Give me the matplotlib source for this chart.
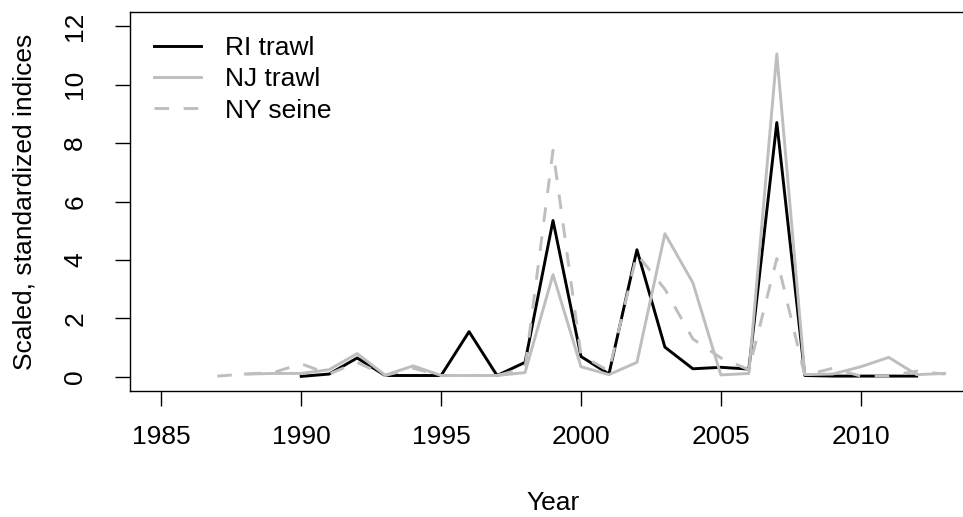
import numpy as np
import matplotlib
matplotlib.use('Agg')
import matplotlib.pyplot as plt

plt.rcParams['font.family'] = ['Liberation Sans', 'DejaVu Sans']

nan = np.nan
years = list(range(1987, 2014))

# RI trawl, starts 1990
ri_trawl = [nan, nan, nan, 0.02, 0.10, 0.65, 0.05, 0.05, 0.05, 1.55,
            0.05, 0.50, 5.35, 0.70, 0.10, 4.35, 1.02, 0.28, 0.33, 0.27,
            8.70, 0.05, 0.03, 0.03, 0.03, 0.03, nan]
# NJ trawl, starts 1988
nj_trawl = [nan, 0.10, 0.12, 0.12, 0.25, 0.80, 0.06, 0.38, 0.05, 0.05,
            0.05, 0.15, 3.50, 0.35, 0.08, 0.50, 4.90, 3.22, 0.07, 0.12,
            11.05, 0.08, 0.10, 0.35, 0.67, 0.08, 0.12]
# NY seine
ny_seine = [0.03, 0.10, 0.15, 0.45, 0.10, 0.50, 0.05, 0.30, 0.05, 0.05,
            0.05, 0.30, 7.75, 0.75, 0.20, 4.20, 3.00, 1.30, 0.65, 0.25,
            4.05, 0.05, 0.30, 0.03, 0.03, 0.20, 0.10]

series_labels = ['RI trawl', 'NJ trawl', 'NY seine']
x_ticks = [1985, 1990, 1995, 2000, 2005, 2010]
y_ticks = [0, 2, 4, 6, 8, 10, 12]

grey = '#BEBEBE'
fs = 19

fig = plt.figure(figsize=(9.63, 5.17), dpi=100)
ax = fig.add_axes([0.135, 0.2437, 0.8785, 0.7331])

ax.plot(years, ri_trawl, color='black', lw=2.1, label=series_labels[0])
ax.plot(years, nj_trawl, color=grey, lw=2.1, label=series_labels[1])
ax.plot(years, ny_seine, color=grey, lw=2.1, ls=(0, (5, 5)), label=series_labels[2])

ax.set_xlim(1983.88, 2014.12)
ax.set_ylim(-0.48, 12.48)
ax.set_xticks(x_ticks)
ax.set_yticks(y_ticks)
ax.set_yticklabels([str(v) for v in y_ticks], rotation=90, va='center')
ax.tick_params(axis='both', direction='out', length=10.8, width=1, labelsize=fs)
ax.tick_params(axis='x', pad=14)
ax.tick_params(axis='y', pad=20)
for s in ax.spines.values():
    s.set_linewidth(1)

ax.set_xlabel('Year', fontsize=fs, labelpad=30)
ax.set_ylabel('Scaled, standardized indices', fontsize=fs, labelpad=19)

ax.legend(loc='upper left', bbox_to_anchor=(0.0, 1.0), frameon=False, fontsize=fs,
          handlelength=1.8, handletextpad=0.9, labelspacing=0.28, borderaxespad=0.5)

fig.savefig('out.png', dpi=100)
